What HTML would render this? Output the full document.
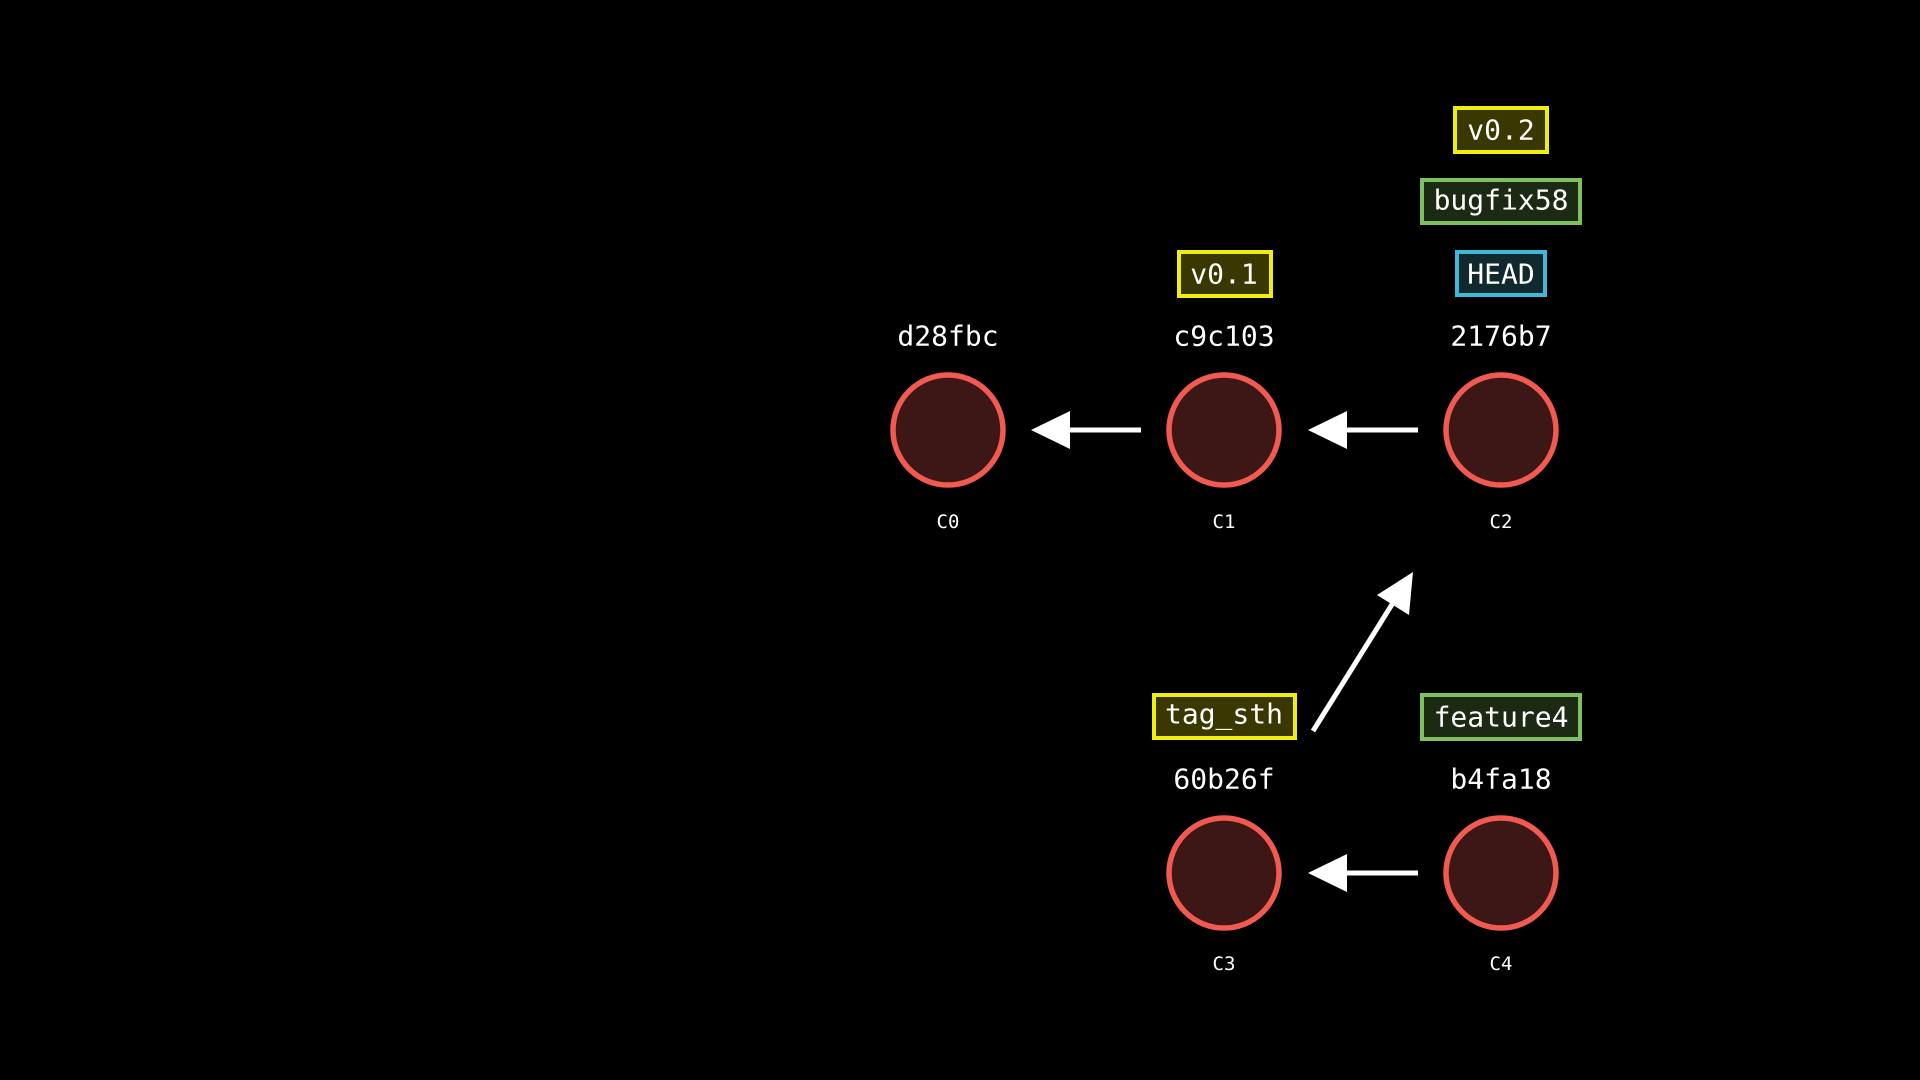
<!DOCTYPE html>
<html><head><meta charset="utf-8"><style>
html,body{margin:0;padding:0;background:#000;}
svg{display:block}
text{font-family:"DejaVu Sans Mono","Liberation Mono",monospace;fill:#fff;text-anchor:middle;dominant-baseline:central}
</style></head><body>
<svg width="1920" height="1080" viewBox="0 0 1920 1080">
<rect width="1920" height="1080" fill="#000"/>
<g stroke="#f05a50" stroke-width="5.5" fill="#3c1715">
<circle cx="948" cy="430" r="55"/>
<circle cx="1224" cy="430" r="55"/>
<circle cx="1501" cy="430" r="55"/>
<circle cx="1224" cy="873" r="55"/>
<circle cx="1501" cy="873" r="55"/>
</g>
<g font-size="28">
<text x="948" y="336">d28fbc</text>
<text x="1224" y="336">c9c103</text>
<text x="1501" y="336">2176b7</text>
<text x="1224" y="779">60b26f</text>
<text x="1501" y="779">b4fa18</text>
</g>
<g font-size="19">
<text x="948" y="522">C0</text>
<text x="1224" y="522">C1</text>
<text x="1501" y="522">C2</text>
<text x="1224" y="964">C3</text>
<text x="1501" y="964">C4</text>
</g>
<g stroke="#fff" stroke-width="5">
<line x1="1141" y1="430" x2="1066" y2="430"/>
<line x1="1418" y1="430" x2="1343" y2="430"/>
<line x1="1418" y1="873" x2="1343" y2="873"/>
<line x1="1313" y1="731" x2="1396" y2="598"/>
</g>
<g fill="#fff">
<polygon points="1031,430 1070,411 1070,449"/>
<polygon points="1308,430 1347,411 1347,449"/>
<polygon points="1308,873 1347,854 1347,892"/>
<polygon points="1413,572 1409,615 1377,595"/>
</g>
<g stroke-width="4" font-size="28">
<rect x="1455" y="108" width="92" height="44" fill="#3a3800" stroke="#eeee10"/>
<text x="1501" y="130">v0.2</text>
<rect x="1422" y="180" width="158" height="43" fill="#1c2a14" stroke="#7cc060"/>
<text x="1501" y="200">bugfix58</text>
<rect x="1457" y="252" width="88" height="43" fill="#10282e" stroke="#40b8d8"/>
<text x="1501" y="274">HEAD</text>
<rect x="1179" y="252" width="92" height="44" fill="#3a3800" stroke="#eeee10"/>
<text x="1224" y="274">v0.1</text>
<rect x="1154" y="695" width="141" height="43" fill="#3a3800" stroke="#eeee10"/>
<text x="1224" y="714">tag_sth</text>
<rect x="1422" y="695" width="158" height="44" fill="#1c2a14" stroke="#7cc060"/>
<text x="1501" y="717">feature4</text>
</g>
</svg>
</body></html>
